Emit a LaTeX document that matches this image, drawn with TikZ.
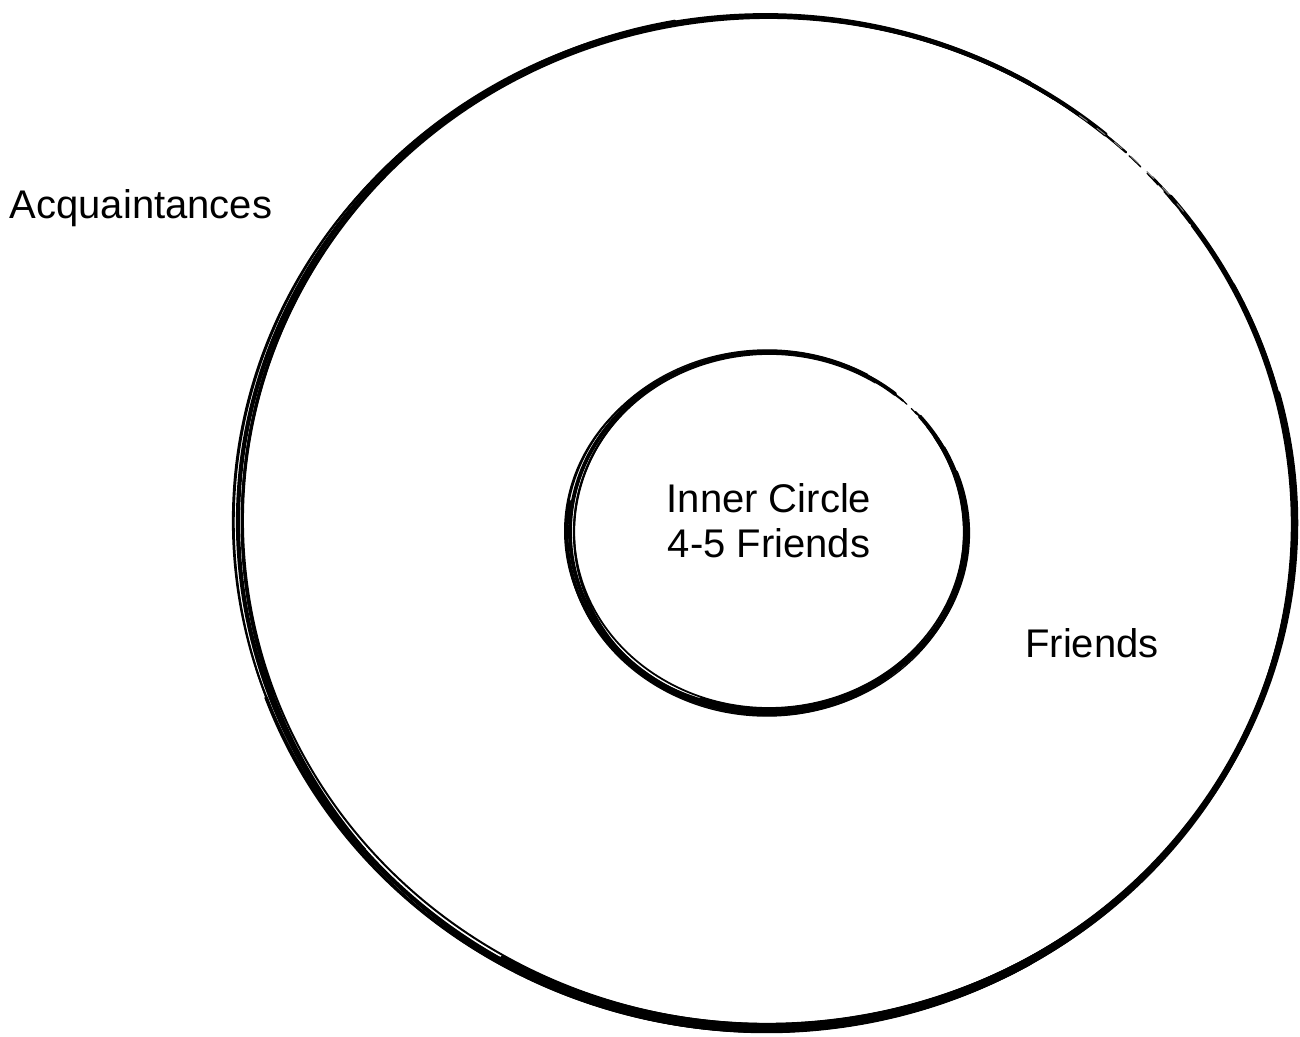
\documentclass[tikz,border=0pt]{standalone}
\usepackage{fontspec}
\setmainfont{Liberation Sans}
\begin{document}
\begin{tikzpicture}[x=1pt,y=1pt,
  stroke/.style={draw=black,line cap=round,line join=round},
  lbl/.style={inner sep=0pt,font=\fontsize{40}{45}\selectfont,align=center}]
\useasboundingbox (0,0) rectangle (1300,1036);
% outer ring: several rough strokes
\foreach \dx/\dy/\drx/\dry/\s/\e/\w in {
  0/0/0/0/50/400/4.2,
  1/-2/-3/2/53/396/2.4,
  -2/1/3/-2/47/403/2.2,
  2/1/-3/-3/57/392/2.0,
  -1/-1/3/3/60/388/1.6,
  1/-1/1/-4/-120/15/4.5,
  -1/-2/3/1/200/300/3.5,
  0/2/-4/1/100/200/2.0,
  2/0/-2/4/150/220/2.5}
{
  \pgfmathsetmacro\rx{528+\drx}
  \pgfmathsetmacro\ry{506+\dry}
  \draw[stroke,line width=\w pt,shift={(766+\dx,514+\dy)}]
    (\s:\rx\space and \ry) arc[start angle=\s,end angle=\e,x radius=\rx,y radius=\ry];
}
% broken strokes in the gap (upper right)
\draw[stroke,line width=1.4pt,dash pattern=on 16pt off 9pt,shift={(766,514)}]
  (36:524 and 508) arc[start angle=36,end angle=58,x radius=524,y radius=508];
\draw[stroke,line width=1pt,gray,dash pattern=on 10pt off 12pt,shift={(765,515)}]
  (38:531 and 503) arc[start angle=38,end angle=55,x radius=531,y radius=503];
% inner ring
\foreach \dx/\dy/\drx/\dry/\s/\e/\w in {
  0/0/0/0/50/400/3.8,
  1/-1/-3/2/53/396/2.2,
  -2/1/3/-2/47/402/2.0,
  1/1/-3/-3/57/392/1.8,
  -1/-1/3/3/60/388/1.4,
  1/-1/1/-3/-110/20/4.2,
  -1/-1/2/1/170/290/3.0}
{
  \pgfmathsetmacro\rx{198+\drx}
  \pgfmathsetmacro\ry{180+\dry}
  \draw[stroke,line width=\w pt,shift={(768+\dx,504+\dy)}]
    (\s:\rx\space and \ry) arc[start angle=\s,end angle=\e,x radius=\rx,y radius=\ry];
}
\draw[stroke,line width=1.2pt,dash pattern=on 8pt off 6pt,shift={(768,504)}]
  (36:195 and 182) arc[start angle=36,end angle=58,x radius=195,y radius=182];
% labels
\node[lbl] (acq) at (141,828) {Acquaintances};
\node[lbl] (inner) at (769,515) {Inner Circle\\4-5 Friends};
\node[lbl] (friends) at (1092,393) {Friends};
\end{tikzpicture}
\end{document}
